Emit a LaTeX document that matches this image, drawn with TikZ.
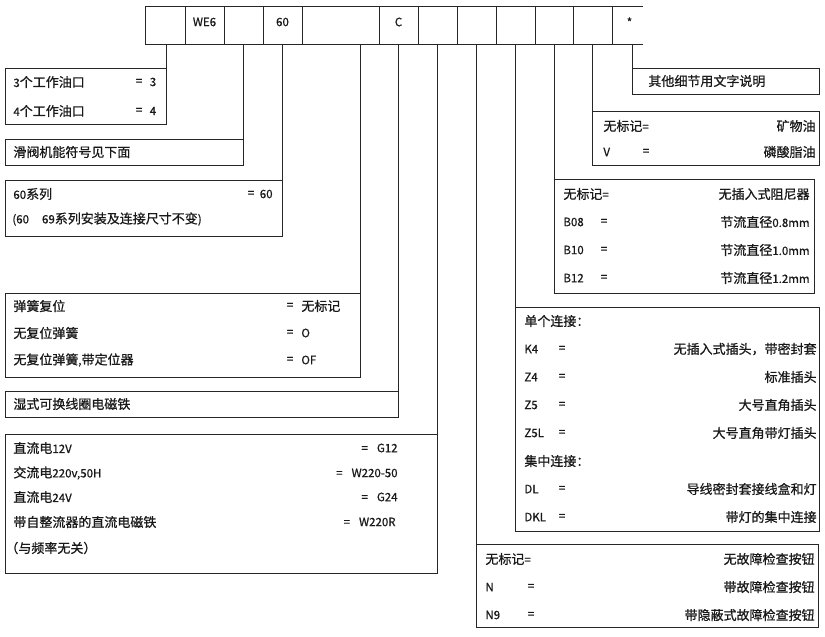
\documentclass[tikz,border=0pt]{standalone}
\usepackage{fontspec}
\setmainfont{Noto Sans CJK SC}[FakeBold=0.7]
\newcommand\latn[1]{{\fontsize{11.5}{13}\selectfont #1}}
\begin{document}
\begin{tikzpicture}[x=1pt,y=-1pt, line width=0.8pt, draw=black!85,
  cell/.style={draw, rectangle, inner sep=0, outer sep=0, minimum height=38pt, anchor=north west},
  box/.style={draw, rectangle, inner sep=0, outer sep=0, anchor=north west},
  t/.style={inner sep=0, font=\fontsize{13}{15}\selectfont, text=black!90}]
\fill[white] (0,0) rectangle (825,637);
\useasboundingbox (0,0) rectangle (825,637);
% top code row
\node[cell, minimum width=40pt] (c1) at (145,6) {};
\node[cell, minimum width=39pt] (c2) at (185,6) {};
\node[cell, minimum width=39pt] (c3) at (224,6) {};
\node[cell, minimum width=39pt] (c4) at (263,6) {};
\node[cell, minimum width=77pt] (c5) at (302,6) {};
\node[cell, minimum width=39pt] (c6) at (379,6) {};
\node[cell, minimum width=39pt] (c7) at (418,6) {};
\node[cell, minimum width=39pt] (c8) at (457,6) {};
\node[cell, minimum width=39pt] (c9) at (496,6) {};
\node[cell, minimum width=38pt] (c10) at (535,6) {};
\node[cell, minimum width=39pt] (c11) at (573,6) {};
\node[cell, draw=none, minimum width=31pt] (c12) at (612,6) {};
\draw (c12.north west) -- (c12.north east) (c12.south west) -- (c12.south east);
\node[t] at ([yshift=3pt]c2.center) {\latn{WE6}};
\node[t] at ([yshift=3pt]c4.center) {\latn{60}};
\node[t] at ([yshift=3pt]c6.center) {\latn{C}};
\node[t] at ([yshift=3pt,xshift=2pt]c12.center) {\latn{*}};
% left boxes
\node[box, minimum width=161pt, minimum height=56pt] (A) at (5,68) {};
\node[box, minimum width=238pt, minimum height=26pt] (B) at (5,139) {};
\node[box, minimum width=277pt, minimum height=56pt] (C) at (5,180) {};
\node[box, minimum width=355pt, minimum height=84pt] (D) at (5,293) {};
\node[box, minimum width=393pt, minimum height=26pt] (E) at (5,391) {};
\node[box, minimum width=432pt, minimum height=139pt] (F) at (5,434) {};
% right boxes
\node[box, minimum width=187pt, minimum height=26pt] (G) at (632,68) {};
\node[box, minimum width=227pt, minimum height=54pt] (H) at (592,111) {};
\node[box, minimum width=260pt, minimum height=114pt] (I) at (554,179) {};
\node[box, minimum width=304pt, minimum height=224pt] (J) at (515,307) {};
\node[box, minimum width=342pt, minimum height=83pt] (K) at (476,544) {};
% connectors
\draw (A.north east) -- (A.north east |- c1.south);
\draw (B.north east) -- (B.north east |- c3.south);
\draw (C.north east) -- (C.north east |- c4.south);
\draw (D.north east) -- (D.north east |- c5.south);
\draw (E.north east) -- (E.north east |- c6.south);
\draw (F.north east) -- (F.north east |- c7.south);
\draw (K.north west) -- (K.north west |- c8.south);
\draw (J.north west) -- (J.north west |- c9.south);
\draw (I.north west) -- (I.north west |- c10.south);
\draw (H.north west) -- (H.north west |- c11.south);
\draw (G.north west) -- (G.north west |- c12.south);
% box A
\node[t, anchor=west] at (13,82) {\latn{3}个工作油口};
\node[t] at (139,82) {\latn{=}};
\node[t] at (153,82) {\latn{3}};
\node[t, anchor=west] at (13,111) {\latn{4}个工作油口};
\node[t] at (139,111) {\latn{=}};
\node[t] at (153,111) {\latn{4}};
% box B
\node[t, anchor=west] at (13,152) {滑阀机能符号见下面};
% box C
\node[t, anchor=west] at (13,194) {\latn{60}系列};
\node[t] at (251,194) {\latn{=}};
\node[t, anchor=east] at (273,194) {\latn{60}};
\node[t, anchor=west] at (12,219) {\latn{(60}\hspace{13pt}\latn{69}系列安装及连接尺寸不变\latn{)}};
% box D
\node[t, anchor=west] at (13,306) {弹簧复位};
\node[t] at (290,306) {\latn{=}};
\node[t, anchor=west] at (301,306) {无标记};
\node[t, anchor=west] at (13,333) {无复位弹簧};
\node[t] at (290,333) {\latn{=}};
\node[t, anchor=west] at (301,333) {\latn{O}};
\node[t, anchor=west] at (13,360) {无复位弹簧\latn{,}带定位器};
\node[t] at (290,360) {\latn{=}};
\node[t, anchor=west] at (301,360) {\latn{OF}};
% box E
\node[t, anchor=west] at (13,404) {湿式可换线圈电磁铁};
% box F
\node[t, anchor=west] at (13,448) {直流电\latn{12V}};
\node[t, anchor=east] at (398,448) {\latn{=\hspace{9pt}G12}};
\node[t, anchor=west] at (13,473) {交流电\latn{220v,50H}};
\node[t, anchor=east] at (398,473) {\latn{=\hspace{9pt}W220-50}};
\node[t, anchor=west] at (13,497) {直流电\latn{24V}};
\node[t, anchor=east] at (398,497) {\latn{=\hspace{9pt}G24}};
\node[t, anchor=west] at (13,522) {带自整流器的直流电磁铁};
\node[t, anchor=east] at (396,522) {\latn{=\hspace{9pt}W220R}};
\node[t, anchor=west] at (5,548) {（与频率无关）};
% box G
\node[t, anchor=west] at (648,81) {其他细节用文字说明};
% box H
\node[t, anchor=west] at (603,126) {无标记\latn{=}};
\node[t, anchor=east] at (816,126) {矿物油};
\node[t, anchor=west] at (603,152) {\latn{V}};
\node[t] at (646,152) {\latn{=}};
\node[t, anchor=east] at (816,152) {磷酸脂油};
% box I
\node[t, anchor=west] at (563,194) {无标记\latn{=}};
\node[t, anchor=east] at (810,194) {无插入式阻尼器};
\node[t, anchor=west] at (563,222) {\latn{B08}};
\node[t] at (604,222) {\latn{=}};
\node[t, anchor=east] at (810,222) {节流直径\latn{0.8mm}};
\node[t, anchor=west] at (563,250) {\latn{B10}};
\node[t] at (604,250) {\latn{=}};
\node[t, anchor=east] at (810,250) {节流直径\latn{1.0mm}};
\node[t, anchor=west] at (563,278) {\latn{B12}};
\node[t] at (604,278) {\latn{=}};
\node[t, anchor=east] at (810,278) {节流直径\latn{1.2mm}};
% box J
\node[t, anchor=west] at (524,321) {单个连接：};
\node[t, anchor=west] at (524,349) {\latn{K4}};
\node[t] at (562,349) {\latn{=}};
\node[t, anchor=east] at (817,349) {无插入式插头，带密封套};
\node[t, anchor=west] at (524,377) {\latn{Z4}};
\node[t] at (562,377) {\latn{=}};
\node[t, anchor=east] at (817,377) {标准插头};
\node[t, anchor=west] at (524,405) {\latn{Z5}};
\node[t] at (562,405) {\latn{=}};
\node[t, anchor=east] at (817,405) {大号直角插头};
\node[t, anchor=west] at (524,433) {\latn{Z5L}};
\node[t] at (562,433) {\latn{=}};
\node[t, anchor=east] at (817,433) {大号直角带灯插头};
\node[t, anchor=west] at (524,461) {集中连接：};
\node[t, anchor=west] at (524,489) {\latn{DL}};
\node[t] at (562,489) {\latn{=}};
\node[t, anchor=east] at (817,489) {导线密封套接线盒和灯};
\node[t, anchor=west] at (524,517) {\latn{DKL}};
\node[t] at (562,517) {\latn{=}};
\node[t, anchor=east] at (817,517) {带灯的集中连接};
% box K
\node[t, anchor=west] at (485,559) {无标记\latn{=}};
\node[t, anchor=east] at (815,559) {无故障检查按钮};
\node[t, anchor=west] at (485,587) {\latn{N}};
\node[t] at (531,587) {\latn{=}};
\node[t, anchor=east] at (815,587) {带故障检查按钮};
\node[t, anchor=west] at (485,615) {\latn{N9}};
\node[t] at (531,615) {\latn{=}};
\node[t, anchor=east] at (815,615) {带隐蔽式故障检查按钮};
\end{tikzpicture}
\end{document}
